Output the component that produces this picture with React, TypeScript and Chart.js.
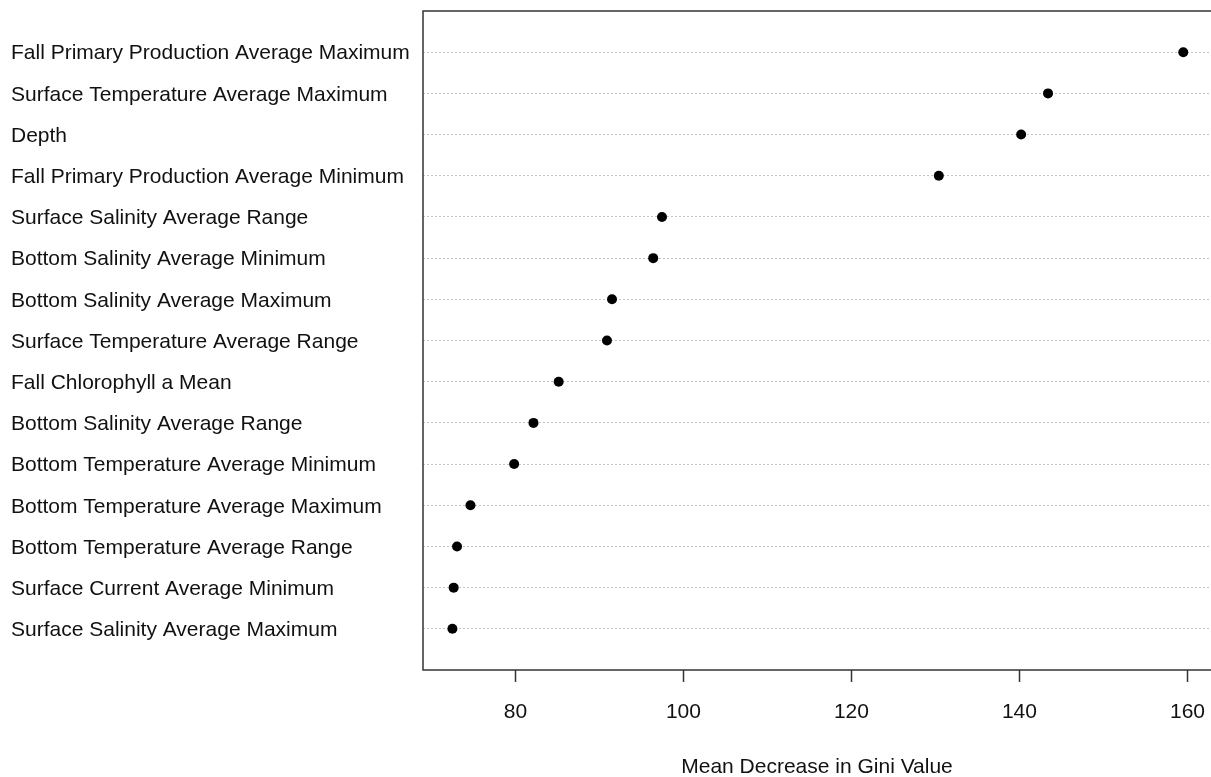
import React, { useEffect, useRef } from "react";
import { Chart, registerables } from "chart.js";

Chart.register(...registerables);

// Variables, from most to least important (top to bottom)
const variables: string[] = [
  "Fall Primary Production Average Maximum",
  "Surface Temperature Average Maximum",
  "Depth",
  "Fall Primary Production Average Minimum",
  "Surface Salinity Average Range",
  "Bottom Salinity Average Minimum",
  "Bottom Salinity Average Maximum",
  "Surface Temperature Average Range",
  "Fall Chlorophyll a Mean",
  "Bottom Salinity Average Range",
  "Bottom Temperature Average Minimum",
  "Bottom Temperature Average Maximum",
  "Bottom Temperature Average Range",
  "Surface Current Average Minimum",
  "Surface Salinity Average Maximum",
];

// Mean decrease in Gini for each variable
const giniValues: number[] = [
  159.5, 143.4, 140.2, 130.4, 97.45, 96.4, 91.5, 90.9, 85.15, 82.15, 79.85,
  74.65, 73.05, 72.65, 72.5,
];

const xTicks: number[] = [80, 100, 120, 140, 160];

const FONT = "'Liberation Sans', Arial, sans-serif";

// Frame round the plotting region; its right side runs past the canvas edge
const boxPlugin = {
  id: "plotBox",
  afterDraw(chart: Chart) {
    const { ctx, chartArea } = chart;
    ctx.save();
    ctx.strokeStyle = "#333333";
    ctx.lineWidth = 1.5;
    ctx.strokeRect(
      chartArea.left,
      chartArea.top,
      chartArea.right - chartArea.left + 4,
      chartArea.bottom - chartArea.top
    );
    ctx.restore();
  },
};

export default function App() {
  const canvasRef = useRef<HTMLCanvasElement | null>(null);

  useEffect(() => {
    if (!canvasRef.current) return;
    const points = giniValues.map((v, i) => ({ x: v, y: i + 1 }));
    const chart = new Chart(canvasRef.current, {
      type: "scatter",
      data: {
        datasets: [
          {
            data: points,
            pointRadius: 5,
            pointHoverRadius: 5,
            backgroundColor: "#000000",
            borderWidth: 0,
          },
        ],
      },
      plugins: [boxPlugin],
      options: {
        animation: false,
        responsive: false,
        maintainAspectRatio: false,
        layout: {
          autoPadding: false,
          padding: { left: 11, top: 11, right: 0, bottom: 0 },
        },
        plugins: {
          legend: { display: false },
          tooltip: { enabled: false },
        },
        scales: {
          x: {
            type: "linear",
            min: 69,
            max: 162.8,
            afterBuildTicks: (scale: any) => {
              scale.ticks = xTicks.map((v) => ({ value: v }));
            },
            afterFit: (scale: any) => {
              scale.height = 107;
              scale.paddingLeft = 0;
              scale.paddingRight = 0;
            },
            grid: {
              drawOnChartArea: false,
              drawTicks: true,
              tickLength: 12,
              tickColor: "#333333",
              tickWidth: 1.5,
            },
            border: { display: false },
            ticks: {
              font: { family: FONT, size: 21 },
              color: "#111111",
              padding: 18,
              maxRotation: 0,
            },
            title: {
              display: true,
              text: "Mean Decrease in Gini Value",
              font: { family: FONT, size: 21 },
              color: "#111111",
              padding: { top: 0, bottom: -3 },
            },
          },
          y: {
            type: "linear",
            min: 0,
            max: 16,
            reverse: true,
            afterBuildTicks: (scale: any) => {
              scale.ticks = variables.map((_, i) => ({ value: i + 1 }));
            },
            afterFit: (scale: any) => {
              scale.width = 412;
              scale.paddingTop = 0;
              scale.paddingBottom = 0;
            },
            grid: {
              drawTicks: false,
              color: "#c4c4c4",
              lineWidth: 1,
            },
            border: { display: false, dash: [2, 2] },
            ticks: {
              font: { family: FONT, size: 21 },
              color: "#111111",
              crossAlign: "far",
              padding: 0,
              labelOffset: 1.5,
              callback: (value: any) => variables[Number(value) - 1] ?? "",
            },
          },
        },
      },
    });
    return () => chart.destroy();
  }, []);

  return (
    <div style={{ position: "fixed", left: 0, top: 0, width: 1211, height: 777, background: "#ffffff" }}>
      <canvas ref={canvasRef} width={1211} height={777} style={{ display: "block" }} />
    </div>
  );
}
